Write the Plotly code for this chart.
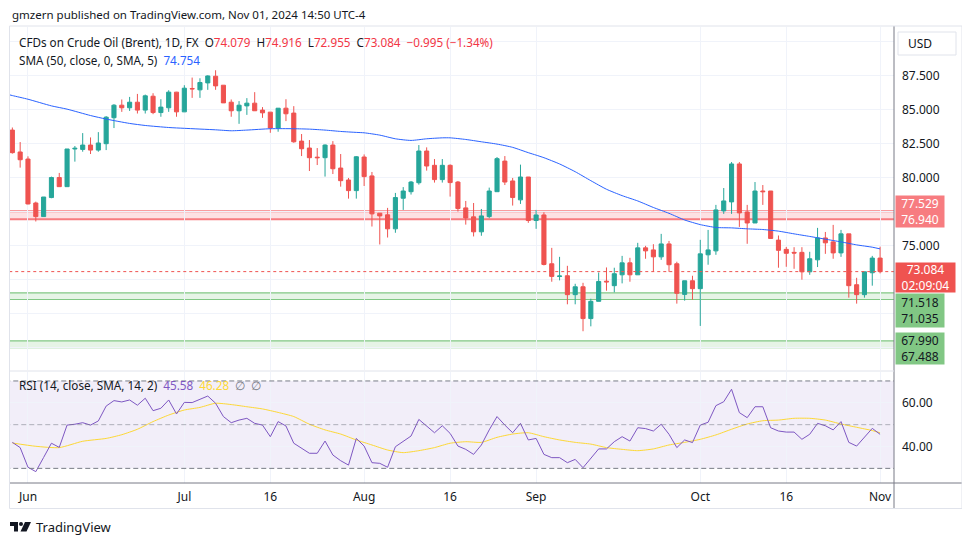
import plotly.graph_objects as go
import pandas as pd

# ---------------- data ----------------
dates = pd.bdate_range("2024-05-30", "2024-11-01")

opens = [83.49, 81.88, 81.36, 78.13, 77.13, 78.53, 80.00, 79.33, 82.10, 82.07,
         82.39, 82.02, 82.49, 84.40, 85.32, 85.13, 85.54, 84.96, 85.98, 84.78,
         85.13, 86.28, 84.83, 86.55, 86.45, 86.96, 87.45, 86.79, 85.54, 84.91,
         85.27, 85.47, 84.96, 84.81, 83.64, 85.10, 84.74, 82.68, 82.17, 81.50,
         81.46, 82.39, 80.70, 79.82, 79.04, 81.51, 80.12, 77.38, 77.26, 76.23,
         78.48, 78.96, 79.62, 81.95, 80.90, 79.85, 80.90, 79.67, 77.77, 77.11,
         76.01, 77.13, 78.96, 81.21, 79.75, 78.36, 80.04, 76.84, 77.25, 73.66,
         72.73, 72.78, 71.39, 71.97, 69.63, 70.90, 72.38, 72.05, 72.85, 73.73,
         72.85, 74.83, 74.68, 74.17, 75.12, 73.66, 71.41, 72.41, 71.83, 74.32,
         74.61, 77.55, 78.21, 81.00, 77.47, 76.66, 79.01, 79.01, 75.40, 74.72,
         74.50, 74.50, 73.07, 73.95, 75.56, 75.27, 74.46, 75.86, 72.12, 71.39,
         73.00, 74.079]
highs = [83.68, 82.61, 81.56, 78.23, 78.57, 80.07, 80.34, 82.10, 82.32, 83.27,
         82.95, 83.34, 84.52, 85.40, 85.74, 85.93, 86.15, 86.10, 86.20, 85.76,
         86.42, 86.30, 86.79, 87.35, 87.30, 87.52, 87.89, 86.79, 85.74, 85.62,
         85.84, 86.28, 85.18, 84.81, 85.10, 85.76, 85.25, 83.20, 82.76, 82.17,
         82.44, 82.68, 81.73, 79.97, 81.58, 81.70, 80.41, 77.38, 77.77, 78.87,
         79.30, 79.75, 82.39, 82.22, 81.36, 81.36, 80.97, 79.75, 78.28, 78.13,
         77.69, 79.26, 81.51, 81.58, 79.97, 80.95, 80.04, 77.62, 77.45, 74.83,
         74.17, 73.51, 72.19, 72.26, 71.09, 73.02, 73.39, 73.37, 74.24, 74.10,
         75.20, 74.98, 75.10, 75.86, 75.34, 73.81, 72.41, 72.78, 75.42, 76.15,
         77.99, 79.23, 81.14, 81.14, 77.99, 79.67, 79.45, 79.01, 75.74, 74.90,
         74.88, 74.88, 74.54, 76.30, 76.00, 76.52, 76.15, 75.86, 72.63, 73.07,
         74.24, 74.916]
lows = [81.76, 80.73, 78.03, 76.77, 77.13, 78.48, 79.33, 79.33, 81.17, 81.90,
        81.73, 81.90, 82.02, 83.64, 84.83, 84.90, 84.71, 84.71, 84.66, 84.47,
        84.83, 84.47, 84.83, 85.86, 85.86, 86.45, 86.45, 85.49, 84.47, 83.95,
        84.61, 84.91, 84.39, 83.29, 83.37, 84.15, 82.56, 81.58, 80.48, 80.92,
        80.07, 80.26, 79.33, 78.45, 78.45, 79.38, 76.40, 75.08, 75.59, 75.94,
        77.62, 78.75, 79.48, 80.51, 79.63, 79.63, 78.60, 77.50, 76.54, 75.67,
        75.72, 77.01, 78.96, 79.45, 77.94, 78.06, 76.67, 76.23, 73.54, 72.34,
        72.44, 70.68, 70.68, 68.70, 69.06, 70.90, 71.68, 71.56, 72.22, 72.34,
        72.85, 74.03, 73.07, 73.95, 73.07, 70.73, 70.95, 71.02, 69.09, 73.59,
        74.32, 77.33, 77.33, 76.37, 75.13, 76.66, 77.99, 75.52, 73.37, 73.44,
        73.29, 72.49, 72.85, 73.42, 74.39, 74.03, 74.17, 71.17, 70.73, 71.17,
        72.05, 72.955]
closes = [81.83, 81.31, 78.06, 77.13, 78.57, 80.00, 79.33, 82.10, 82.15, 82.39,
          82.02, 82.54, 84.44, 85.32, 85.13, 85.54, 84.96, 86.01, 84.78, 85.18,
          86.28, 84.83, 86.57, 86.52, 86.99, 87.47, 86.74, 85.49, 84.91, 85.32,
          85.47, 84.91, 84.76, 83.64, 85.10, 84.69, 82.63, 82.12, 81.46, 81.46,
          82.39, 80.65, 79.77, 79.04, 81.53, 80.07, 77.33, 77.18, 76.23, 78.53,
          79.01, 79.67, 81.95, 80.85, 79.85, 80.90, 79.63, 77.72, 77.03, 76.01,
          77.18, 79.01, 81.39, 79.67, 78.53, 80.04, 76.84, 77.25, 73.61, 72.73,
          72.76, 71.39, 71.97, 69.63, 70.90, 72.36, 72.33, 72.93, 73.73, 72.85,
          74.83, 74.61, 74.17, 75.12, 73.59, 71.49, 72.41, 71.83, 74.39, 74.68,
          77.62, 78.28, 81.00, 77.40, 76.66, 79.01, 78.96, 75.52, 74.65, 74.43,
          74.45, 73.07, 74.03, 75.56, 75.20, 74.46, 75.86, 72.05, 71.39, 73.07,
          74.079, 73.084]

sma_idx = [-1, 0, 2, 5, 7, 10, 12, 15, 17, 20, 22, 26, 28, 30, 33, 36, 38, 40, 42, 44,
           45, 47, 49, 51, 53, 55, 56, 58, 60, 62, 64, 66, 67, 68, 70, 72, 74, 76, 78,
           80, 82, 84, 86, 88, 90, 92, 94, 96, 98, 100, 102, 104, 106, 108, 110, 111]
sma_val = [86.18, 86.03, 85.76, 85.27, 85.03, 84.56, 84.30, 83.98, 83.83, 83.68, 83.62,
           83.51, 83.44, 83.49, 83.59, 83.59, 83.56, 83.49, 83.39, 83.32, 83.29, 83.12,
           82.85, 82.73, 82.85, 82.92, 82.92, 82.80, 82.63, 82.46, 82.22, 81.83, 81.65,
           81.46, 81.00, 80.43, 79.77, 79.14, 78.67, 78.28, 77.80, 77.37, 76.88, 76.54,
           76.33, 76.30, 76.23, 76.18, 76.06, 75.86, 75.67, 75.47, 75.27, 75.05, 74.88,
           74.754]

rsi_vals = [41.9, 39.5, 30.5, 28.5, 35.0, 41.5, 39.6, 49.8, 50.2, 50.9,
            49.8, 51.7, 58.5, 61.0, 60.4, 61.3, 58.9, 62.1, 56.4, 57.5,
            61.3, 54.9, 60.2, 60.1, 61.6, 63.1, 59.8, 53.7, 50.9, 52.1,
            52.9, 50.6, 49.8, 44.5, 51.4, 49.4, 41.5, 39.2, 36.9, 36.9,
            42.5, 36.1, 33.5, 31.5, 43.7, 40.2, 32.6, 32.3, 30.5, 39.9,
            42.5, 44.8, 52.4, 49.4, 46.3, 49.5, 46.0, 40.2, 38.7, 36.4,
            40.7, 47.6, 53.7, 49.8, 46.3, 50.6, 43.0, 43.7, 36.4, 34.9,
            34.9, 32.6, 34.1, 30.3, 34.6, 38.9, 38.9, 42.2, 44.5, 42.5,
            48.6, 48.2, 47.1, 50.2, 45.6, 39.5, 43.0, 41.8, 49.8, 51.1,
            58.7, 60.5, 66.2, 55.5, 53.2, 58.2, 58.2, 48.6, 47.1, 46.6,
            46.6, 43.3, 45.6, 50.6, 49.5, 47.6, 51.4, 41.9, 40.2, 44.5,
            48.3, 45.58]

rsi_sma_idx = [0, 3, 6, 9, 12, 14, 16, 18, 20, 22, 24, 26, 28, 30, 32, 34, 36, 38, 40,
               42, 44, 46, 48, 50, 52, 54, 56, 58, 60, 62, 64, 66, 68, 70, 72, 74, 76,
               78, 80, 82, 84, 86, 88, 90, 92, 94, 96, 98, 100, 102, 104, 106, 108,
               110, 111]
rsi_sma_val = [41.6, 40.1, 39.5, 42.4, 43.7, 45.4, 47.9, 51.4, 54.4, 56.7, 57.9, 59.8,
               59.2, 58.2, 57.2, 55.6, 53.7, 50.2, 47.6, 45.7, 43.0, 40.7, 38.4, 37.2,
               38.1, 39.5, 41.5, 42.2, 41.9, 44.2, 45.7, 46.3, 44.5, 43.0, 41.9, 41.1,
               39.5, 38.7, 38.1, 38.9, 40.7, 41.9, 43.3, 45.3, 47.9, 50.3, 51.8, 52.1,
               52.9, 52.9, 52.1, 50.3, 48.8, 47.3, 46.28]

tick_idx = [2, 22, 33, 45, 56, 67, 88, 99, 111]
tick_text = ["Jun", "Jul", "16", "Aug", "16", "Sep", "Oct", "16", "Nov"]

price_ticks = [67.5, 70.0, 72.5, 75.0, 77.5, 80.0, 82.5, 85.0, 87.5, 90.0]
price_ticktext = ["", "", "", "75.000", "", "80.000", "82.500", "85.000", "87.500", ""]

red_zone = (76.940, 77.529)
green_zone1 = (71.035, 71.518)
green_zone2 = (67.488, 67.990)
last_close = 73.084

x = list(range(len(opens)))

# ---------------- layout geometry (page pixels; the page body has an 8px margin) ----
OFF = 8
W, H = 970 - OFF, 545 - OFF
P_L, P_R, P_T, P_B = 10, 894, 27, 483          # plot area in page pixels
ML, MR, MT, MB = P_L - OFF, (970 - P_R), P_T - OFF, (545 - P_B)
PW = P_R - P_L
PH = P_B - P_T
XR = [-0.30, 112.78]
Y1R = [65.85, 91.07]
Y2R = [23.3, 74.1]
D1 = [(P_B - 370) / PH, 1.0]
D2 = [0.0, (P_B - 372) / PH]


def px(xp):
    return (xp - P_L) / PW


def py(yp):
    return (P_B - yp) / PH


FONT = "Noto Sans"
TXT = "#131722"
RED = "#ef5350"
GREEN = "#26a69a"

fig = go.Figure()

fig.add_trace(go.Candlestick(
    x=x, open=opens, high=highs, low=lows, close=closes,
    increasing=dict(line=dict(color=GREEN, width=1), fillcolor=GREEN),
    decreasing=dict(line=dict(color=RED, width=1), fillcolor=RED),
    whiskerwidth=0, xaxis="x", yaxis="y", hoverinfo="skip", showlegend=False))

fig.add_trace(go.Scatter(
    x=sma_idx, y=sma_val, mode="lines", xaxis="x", yaxis="y",
    line=dict(color="#2962ff", width=1, shape="spline", smoothing=0.6),
    hoverinfo="skip", showlegend=False))

fig.add_trace(go.Scatter(
    x=rsi_sma_idx, y=rsi_sma_val, mode="lines", xaxis="x2", yaxis="y2",
    line=dict(color="#fdd835", width=1, shape="spline", smoothing=0.6),
    hoverinfo="skip", showlegend=False))

fig.add_trace(go.Scatter(
    x=x, y=rsi_vals, mode="lines", xaxis="x2", yaxis="y2",
    line=dict(color="#7e57c2", width=1),
    hoverinfo="skip", showlegend=False))

shapes = []
shapes.append(dict(type="rect", xref="x", yref="y", x0=-5, x1=120,
                   y0=red_zone[0], y1=red_zone[1], layer="below",
                   fillcolor="rgba(242,54,69,0.15)",
                   line=dict(color="#f77c80", width=2)))
for z in (green_zone1, green_zone2):
    shapes.append(dict(type="rect", xref="x", yref="y", x0=-5, x1=120,
                       y0=z[0], y1=z[1], layer="below",
                       fillcolor="rgba(129,199,132,0.2)",
                       line=dict(color="#81c784", width=1.2)))
shapes.append(dict(type="line", xref="x", yref="y", x0=-5, x1=120,
                   y0=last_close, y1=last_close,
                   line=dict(color=RED, width=1, dash="dot")))
shapes.append(dict(type="rect", xref="x2", yref="y2", x0=-5, x1=120, y0=30, y1=70,
                   layer="below", fillcolor="rgba(126,87,194,0.1)", line=dict(width=0)))
for lvl, col in ((70, "#787b86"), (50, "rgba(120,123,134,0.55)"), (30, "#787b86")):
    shapes.append(dict(type="line", xref="x2", yref="y2", x0=-5, x1=120, y0=lvl, y1=lvl,
                       line=dict(color=col, width=1, dash="5px,3px")))
# frame / axis lines
shapes.append(dict(type="line", xref="paper", yref="paper", x0=px(10), x1=px(962),
                   y0=py(483), y1=py(483), line=dict(color="#787b86", width=1)))
shapes.append(dict(type="line", xref="paper", yref="paper", x0=px(894), x1=px(894),
                   y0=py(26), y1=py(508), line=dict(color="#787b86", width=1)))
shapes.append(dict(type="line", xref="paper", yref="paper", x0=px(10), x1=px(894),
                   y0=py(371), y1=py(371), line=dict(color="#e0e3eb", width=1)))
shapes.append(dict(type="rect", xref="paper", yref="paper", x0=px(9.5), x1=px(962),
                   y0=py(26), y1=py(508.5), line=dict(color="#e0e3eb", width=1)))
# USD button
shapes.append(dict(type="rect", xref="paper", yref="paper", x0=px(898), x1=px(956),
                   y0=py(32), y1=py(55), line=dict(color="#e0e3eb", width=1),
                   fillcolor="white"))
# TradingView logo
lx = [10, 18, 18, 14, 14, 10]
ly = [522, 522, 531.5, 531.5, 526, 526]
path = "M " + " L ".join(f"{px(a):.5f},{py(b):.5f}" for a, b in zip(lx, ly)) + " Z"
shapes.append(dict(type="path", xref="paper", yref="paper", path=path,
                   fillcolor="#131722", line=dict(width=0)))
shapes.append(dict(type="circle", xref="paper", yref="paper", x0=px(19), x1=px(23),
                   y0=py(522), y1=py(526), fillcolor="#131722", line=dict(width=0)))
lx = [25, 31, 26.5, 20.5]
ly = [522, 522, 531.5, 531.5]
path = "M " + " L ".join(f"{px(a):.5f},{py(b):.5f}" for a, b in zip(lx, ly)) + " Z"
shapes.append(dict(type="path", xref="paper", yref="paper", path=path,
                   fillcolor="#131722", line=dict(width=0)))

ann = []


def text(xp, yp, t, size=12, color=TXT, anchor="left"):
    ann.append(dict(xref="paper", yref="paper", x=px(xp), y=py(yp), text=t,
                    showarrow=False, xanchor=anchor, yanchor="middle",
                    font=dict(family=FONT, size=size, color=color)))


text(10, 14, "gmzern published on TradingView.com, Nov 01, 2024 14:50 UTC-4", size=11.5)
R = "#f23645"
leg = ("CFDs on Crude Oil (Brent), 1D, FX  "
       f"O<span style='color:{R}'>74.079</span>  H<span style='color:{R}'>74.916</span>  "
       f"L<span style='color:{R}'>72.955</span>  C<span style='color:{R}'>73.084</span>  "
       f"<span style='color:{R}'>−0.995 (−1.34%)</span>")
text(17, 42, leg, size=11.7)
text(17, 60, "SMA (50, close, 0, SMA, 5)  <span style='color:#2962ff'>74.754</span>", size=11.7)
text(17, 385, "RSI (14, close, SMA, 14, 2)  <span style='color:#7e57c2'>45.58</span>  "
     "<span style='color:#fdd835'>46.28</span>  <span style='color:#787b86'>∅  ∅</span>", size=11.7)
text(906, 44, "USD", size=12)
text(34, 527, "TradingView", size=13)


def label(y, yshift, t, bg, fg, w, h):
    ann.append(dict(xref="paper", yref="y", x=px(895), y=y, yshift=yshift, text=t,
                    showarrow=False, xanchor="left", yanchor="middle", bgcolor=bg,
                    width=w, height=h, borderpad=0, align="center",
                    font=dict(family=FONT, size=12, color=fg)))


label(sum(red_zone) / 2, 4, "77.529<br>76.940", "#f77c80", "white", 48, 31)
label(last_close, -6, "73.084<br>02:09:04", RED, "white", 59, 29)
label(sum(green_zone1) / 2, -14, "71.518<br>71.035", "#81c784", "#131722", 48, 33)
label(sum(green_zone2) / 2, -4, "67.990<br>67.488", "#81c784", "#131722", 48, 31)

grid = "#f0f3fa"
fig.update_layout(
    width=W, height=H, margin=dict(l=ML, r=MR, t=MT, b=MB),
    paper_bgcolor="white", plot_bgcolor="white",
    showlegend=False, boxgap=0.25, boxgroupgap=0.3,
    font=dict(family=FONT, color=TXT, size=12),
    xaxis=dict(domain=[0, 1], anchor="y", range=XR, tickvals=tick_idx, ticktext=tick_text,
               showticklabels=False, showgrid=True, gridcolor=grid, zeroline=False,
               showline=False, ticks="", rangeslider=dict(visible=False), fixedrange=True),
    xaxis2=dict(domain=[0, 1], anchor="y2", range=XR, tickvals=tick_idx, ticktext=tick_text,
                showgrid=True, gridcolor=grid, zeroline=False, showline=False, ticks="",
                ticklabelstandoff=5, tickfont=dict(family=FONT, size=12, color=TXT)),
    yaxis=dict(domain=D1, anchor="x", side="right", range=Y1R, tickvals=price_ticks,
               ticktext=price_ticktext, showgrid=True, gridcolor=grid, zeroline=False,
               showline=False, ticks="", ticklabelstandoff=7,
               tickfont=dict(family=FONT, size=12, color=TXT)),
    yaxis2=dict(domain=D2, anchor="x2", side="right", range=Y2R, tickvals=[40, 60],
                ticktext=["40.00", "60.00"], showgrid=True, gridcolor=grid, zeroline=False,
                showline=False, ticks="", ticklabelstandoff=7,
                tickfont=dict(family=FONT, size=12, color=TXT)),
    shapes=shapes, annotations=ann,
)

fig.write_html("out.html")
